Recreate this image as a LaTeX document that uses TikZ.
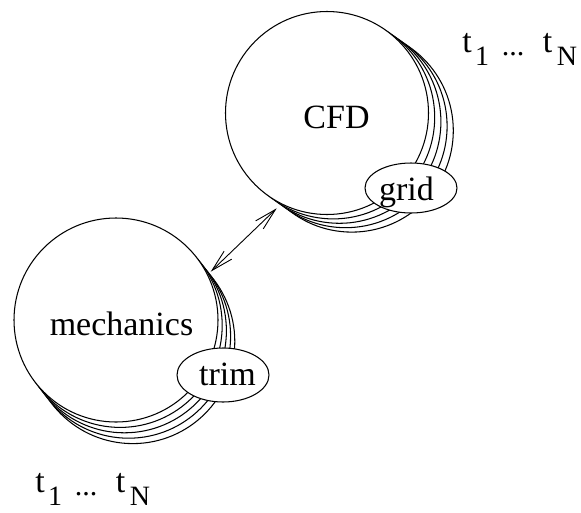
\documentclass[tikz,border=0pt]{standalone}
\usepackage{fontspec}
\setmainfont{Liberation Serif}
\usetikzlibrary{shapes.geometric,arrows.meta}
\begin{document}
\begin{tikzpicture}[x=1pt,y=1pt,
  ring/.style={circle,draw=black,fill=white,line width=1.05pt,inner sep=0pt,minimum size=#1},
  oval/.style={ellipse,draw=black,fill=white,line width=1.05pt,inner sep=0pt,minimum width=92pt,minimum height=#1},
  big/.style={inner sep=0pt,font=\fontsize{34}{36}\selectfont},
  sub/.style={inner sep=0pt,font=\fontsize{28}{30}\selectfont},
  dots/.style={inner sep=0pt,font=\fontsize{30}{32}\selectfont},
  link/.style={line width=0.9pt,{Straight Barb[length=22pt,width=11pt]}-{Straight Barb[length=22pt,width=11pt]}}]
\useasboundingbox (0,0) rectangle (581,-512);
% CFD stack
\foreach \k in {4,3,2,1} {
  \node[ring=203pt] (cfd\k) at ({327+6.2*\k},{-113-4.4*\k}) {};
}
\node[ring=203pt] (cfd) at (327,-113) {};
% mechanics stack
\foreach \k in {4,3,2,1} {
  \node[ring=204pt] (mech\k) at ({116+4.2*\k},{-320-5.4*\k}) {};
}
\node[ring=204pt] (mech) at (116,-320) {};
% ellipses
\node[oval=50pt] (grid) at (411,-188) {};
\node[oval=54pt] (trim) at (223,-375) {};
% texts
\node[big,anchor=base] (cfdt) at (336.5,-128) {CFD};
\node[big,anchor=base] (mecht) at (121.5,-335) {mechanics};
\node[big,anchor=base] (gridt) at (406.5,-200) {grid};
\node[big,anchor=base] (trimt) at (227.5,-385) {trim};
% time labels top right
\node[big,anchor=base] (ta1) at (467,-52) {t};
\node[sub,anchor=base] (ta2) at (482,-65) {1};
\node[dots,anchor=base] (ta3) at (513,-55) {...};
\node[big,anchor=base] (ta4) at (547.5,-52) {t};
\node[sub,anchor=base] (ta5) at (567,-65) {N};
% time labels bottom left
\node[big,anchor=base] (tb1) at (40,-492) {t};
\node[sub,anchor=base] (tb2) at (55,-505) {1};
\node[dots,anchor=base] (tb3) at (86,-495) {...};
\node[big,anchor=base] (tb4) at (120.5,-492) {t};
\node[sub,anchor=base] (tb5) at (140,-505) {N};
% arrow
\coordinate (pa) at (276.7,-208.3);
\coordinate (pb) at (210.7,-271.7);
\draw[link] (pb) -- (pa);
\end{tikzpicture}
\end{document}
